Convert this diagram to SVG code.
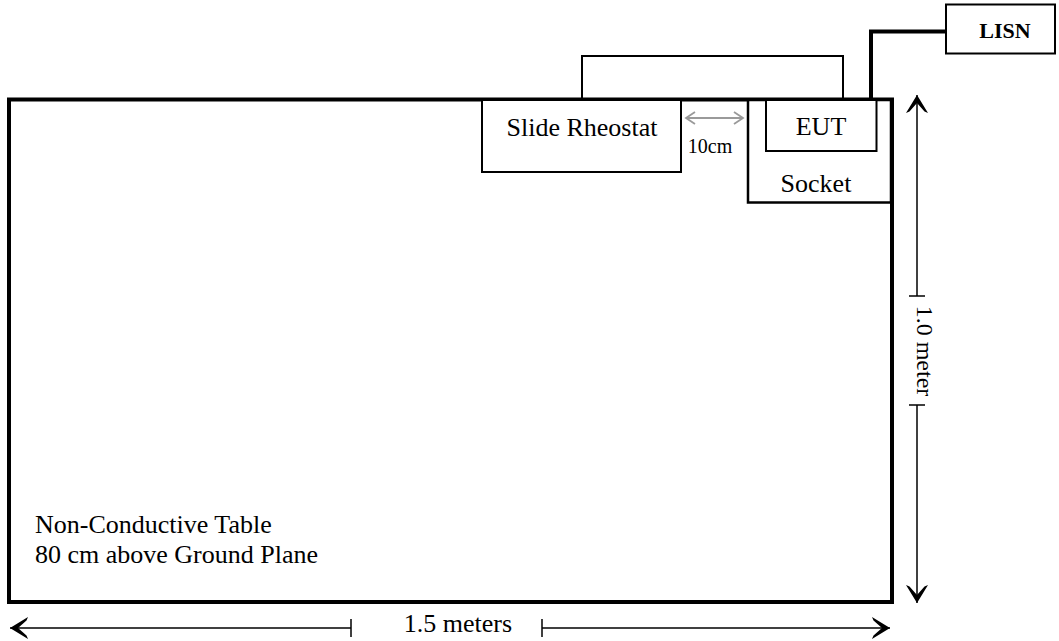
<svg xmlns="http://www.w3.org/2000/svg" width="1059" height="641" viewBox="0 0 1059 641">
  <style>
    .t { font-family: "Liberation Serif", "Times New Roman", serif; fill: #000; }
    .box { fill: #fff; stroke: #000; stroke-width: 2; }
    .dim { stroke: #000; stroke-width: 1.5; fill: none; }
    .wire { fill: none; stroke: #000; }
  </style>
  <defs>
    <marker id="ah" markerUnits="userSpaceOnUse" viewBox="-20 -12 22 24" refX="0" refY="0" markerWidth="22" markerHeight="24" orient="auto">
      <path d="M0,0 L-18,-11 L-16.5,-7.5 L-8,0 L-16.5,7.5 L-18,11 Z" fill="#000"/>
    </marker>
    <marker id="ahg" markerUnits="userSpaceOnUse" viewBox="-12 -8 14 16" refX="0" refY="0" markerWidth="14" markerHeight="16" orient="auto-start-reverse">
      <path d="M-9,-6 L0,0 L-9,6" fill="none" stroke="#9a9a9a" stroke-width="1.8"/>
    </marker>
  </defs>

  <g id="table">
    <rect x="9" y="99.5" width="883" height="502.5" fill="#fff" stroke="#000" stroke-width="4"/>
    <text class="t" x="35" y="533" font-size="26">Non-Conductive Table</text>
    <text class="t" x="35" y="563" font-size="26">80 cm above Ground Plane</text>
  </g>

  <g id="connectors">
    <polyline class="wire" stroke-width="2" points="582,100 582,56 843,56 843,100"/>
    <polyline class="wire" stroke-width="4" points="871,100 871,31.5 946,31.5"/>
    <line x1="686" y1="118" x2="743" y2="118" stroke="#9a9a9a" stroke-width="1.8" marker-start="url(#ahg)" marker-end="url(#ahg)"/>
  </g>

  <g id="slide-rheostat">
    <rect class="box" x="482" y="100" width="199" height="72"/>
    <text class="t" x="582" y="136" font-size="26" text-anchor="middle">Slide Rheostat</text>
  </g>

  <g id="gap-label">
    <text class="t" x="710" y="153" font-size="20" text-anchor="middle">10cm</text>
  </g>

  <g id="socket">
    <rect x="748" y="100" width="143" height="102.5" fill="#fff" stroke="#000" stroke-width="2.5"/>
    <text class="t" x="816" y="192" font-size="26" text-anchor="middle">Socket</text>
  </g>

  <g id="eut">
    <rect class="box" x="766" y="100" width="110.5" height="51"/>
    <text class="t" x="821" y="135" font-size="26" text-anchor="middle">EUT</text>
  </g>

  <g id="lisn">
    <rect class="box" x="946" y="4.5" width="109" height="49"/>
    <text class="t" x="1005" y="38" font-size="22" font-weight="bold" text-anchor="middle">LISN</text>
  </g>

  <g id="dim-height">
    <line class="dim" x1="917" y1="296" x2="917" y2="95" marker-end="url(#ah)"/>
    <line class="dim" x1="917" y1="405" x2="917" y2="603" marker-end="url(#ah)"/>
    <line class="dim" x1="909" y1="296" x2="925" y2="296"/>
    <line class="dim" x1="909" y1="405" x2="925" y2="405"/>
    <text class="t" font-size="24" text-anchor="middle" transform="translate(917,351) rotate(90)">1.0 meter</text>
  </g>

  <g id="dim-width">
    <line class="dim" x1="351" y1="628" x2="10" y2="628" marker-end="url(#ah)"/>
    <line class="dim" x1="542" y1="628" x2="890" y2="628" marker-end="url(#ah)"/>
    <line class="dim" x1="351" y1="619" x2="351" y2="637"/>
    <line class="dim" x1="542" y1="619" x2="542" y2="637"/>
    <text class="t" x="458" y="632" font-size="26" text-anchor="middle">1.5 meters</text>
  </g>
</svg>
